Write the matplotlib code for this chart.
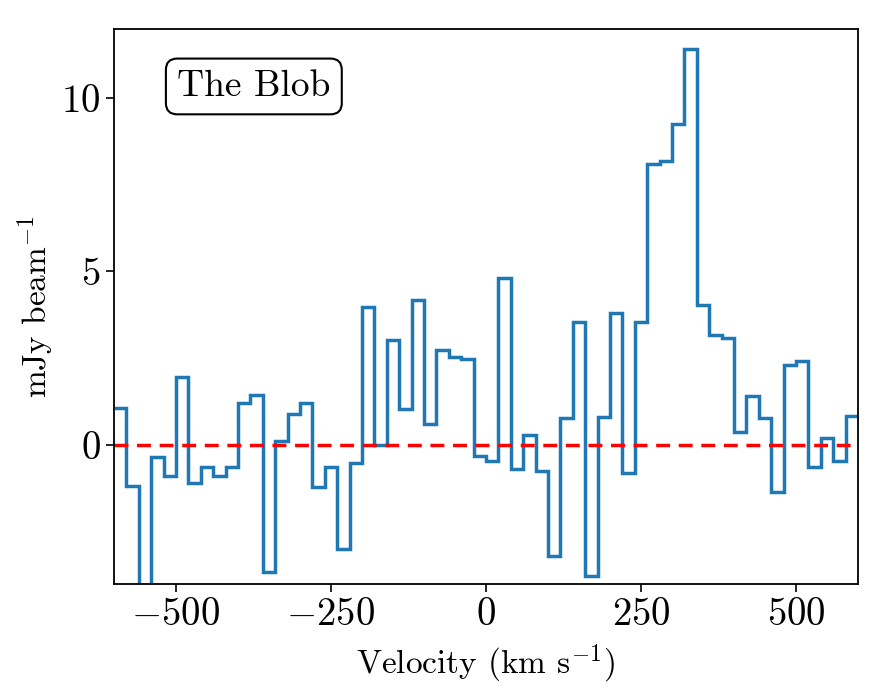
import numpy as np
import matplotlib
matplotlib.use("Agg")
import matplotlib.pyplot as plt

# ── spectrum (20 km/s channels) ───────────────────────────────────────────────
EDGES = np.arange(-600, 601, 20)
FLUX = [
    1.08, -1.17, -5.0, -0.35, -0.88, 1.96, -1.08, -0.64, -0.88, -0.64,
    1.20, 1.45, -3.64, 0.12, 0.90, 1.21, -1.21, -0.64, -2.98, -0.53,
    3.97, 0.01, 3.02, 1.04, 4.19, 0.60, 2.73, 2.54, 2.48, -0.32,
    -0.45, 4.82, -0.68, 0.29, -0.76, -3.18, 0.77, 3.53, -3.76, 0.80,
    3.81, -0.81, 3.53, 8.09, 8.19, 9.25, 11.40, 4.03, 3.18, 3.08,
    0.38, 1.42, 0.77, -1.34, 2.30, 2.41, -0.63, 0.19, -0.45, 0.84,
]
LABEL = "The Blob"

plt.rcParams["font.family"] = "serif"
plt.rcParams["font.serif"] = ["cmr10"]
plt.rcParams["mathtext.fontset"] = "cm"
plt.rcParams["axes.formatter.use_mathtext"] = True

fig = plt.figure(figsize=(8.8, 6.99), dpi=100)
ax = fig.add_axes([0.1295, 0.165, 0.8455, 0.793])

ax.stairs(FLUX, EDGES, color="#1f77b4", lw=2.5, baseline=None)
ax.axhline(0, color="red", ls="--", lw=2.5, dashes=(4, 2.5))

ax.set_xlim(-600, 600)
ax.set_ylim(-3.99, 11.97)
ax.set_xticks([-500, -250, 0, 250, 500])
ax.set_yticks([0, 5, 10])
ax.tick_params(labelsize=28, length=6, width=1.2)
for s in ax.spines.values():
    s.set_linewidth(1.3)

ax.set_xlabel(r"Velocity (km s$^{-1}$)", fontsize=24, labelpad=7)
ax.set_ylabel(r"mJy beam$^{-1}$", fontsize=24)

ax.text(0.188, 0.897, LABEL, transform=ax.transAxes, fontsize=27,
        ha="center", va="center",
        bbox=dict(boxstyle="round,pad=0.3", fc="white", ec="black", lw=1.5))

fig.savefig("out.png", dpi=100)
